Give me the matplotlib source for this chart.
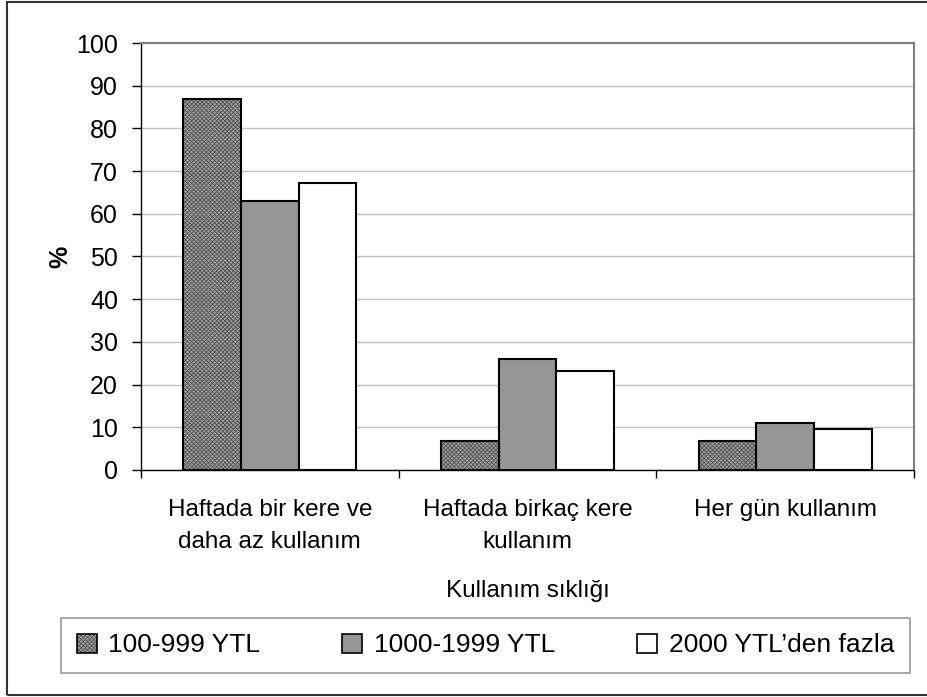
import numpy as np
import matplotlib
matplotlib.use('Agg')
import matplotlib.pyplot as plt
from matplotlib.patches import Patch, Rectangle
from matplotlib.legend_handler import HandlerTuple

plt.rcParams['font.family'] = ['Liberation Sans', 'DejaVu Sans']
plt.rcParams['hatch.linewidth'] = 0.6

# 数据
categories = ['Haftada bir kere ve\ndaha az kullanım',
              'Haftada birkaç kere\nkullanım',
              'Her gün kullanım']
series_names = ['100-999 YTL', '1000-1999 YTL', "2000 YTL’den fazla"]
vals_100_999 = [86.8, 6.7, 6.8]
vals_1000_1999 = [62.9, 25.9, 10.9]
vals_2000_plus = [67.1, 23.1, 9.5]
y_ticks = [0, 10, 20, 30, 40, 50, 60, 70, 80, 90, 100]

fig = plt.figure(figsize=(9.27, 6.97), dpi=100)
ax = fig.add_axes([0.1521, 0.3257, 0.834, 0.6126])

x = np.arange(len(categories))
w = 0.224
hatch_fc, hatch_ec = '#a0a0a0', '#555555'
hatch = 'xxxxxxxx'

# 第一组：网纹填充 + 黑色边框
ax.bar(x - w, vals_100_999, w, color=hatch_fc, edgecolor=hatch_ec,
       hatch=hatch, linewidth=0, zorder=3)
ax.bar(x - w, vals_100_999, w, fill=False, edgecolor='black', linewidth=1.5, zorder=4)
ax.bar(x, vals_1000_1999, w, color='#969696', edgecolor='black', linewidth=1.5, zorder=3)
ax.bar(x + w, vals_2000_plus, w, color='white', edgecolor='black', linewidth=1.5, zorder=3)

ax.set_xlim(-0.5, len(categories) - 0.5)
ax.set_ylim(0, 100)
ax.set_yticks(y_ticks)
ax.set_xticks(x)
ax.set_xticklabels(categories, fontsize=17.5, linespacing=1.6)
ax.set_xticks(np.arange(len(categories) + 1) - 0.5, minor=True)
ax.tick_params(axis='x', which='major', length=0, pad=21)
ax.tick_params(axis='x', which='minor', length=6, width=1, direction='out')
ax.tick_params(axis='y', labelsize=18, length=6.5, width=1, direction='out', pad=10)

ax.grid(axis='y', color='#c0c0c0', linewidth=1, zorder=0)
ax.set_axisbelow(True)
for s in ['top', 'right']:
    ax.spines[s].set_color('#808080')
    ax.spines[s].set_linewidth(1.5)
for s in ['left', 'bottom']:
    ax.spines[s].set_color('black')
    ax.spines[s].set_linewidth(1)

ax.set_xlabel('Kullanım sıklığı', fontsize=17.5, labelpad=19)
ax.set_ylabel('%', fontsize=18, fontweight='bold', labelpad=3)

# 图例
h1 = (Patch(facecolor=hatch_fc, edgecolor=hatch_ec, hatch=hatch, linewidth=0),
      Patch(fill=False, edgecolor='black', linewidth=1.2))
h2 = Patch(facecolor='#969696', edgecolor='black', linewidth=1.2)
h3 = Patch(facecolor='white', edgecolor='black', linewidth=1.2)
leg = fig.legend([h1, h2, h3], series_names, ncol=3, loc='center',
                 bbox_to_anchor=(0.5237, 0.074), fontsize=19,
                 handler_map={tuple: HandlerTuple(ndivide=1, pad=0)},
                 handlelength=0.75, handleheight=0.75, handletextpad=0.45,
                 columnspacing=3.1, borderpad=0.6, fancybox=False,
                 frameon=True, edgecolor='#808080')
leg.get_frame().set_linewidth(1.2)

# 外框
fig.patches.append(Rectangle((7 / 927, 2 / 697), 1.0, 1 - 4 / 697,
                             transform=fig.transFigure, fill=False,
                             edgecolor='#333333', linewidth=1.5))

fig.savefig('out.png', dpi=100)
